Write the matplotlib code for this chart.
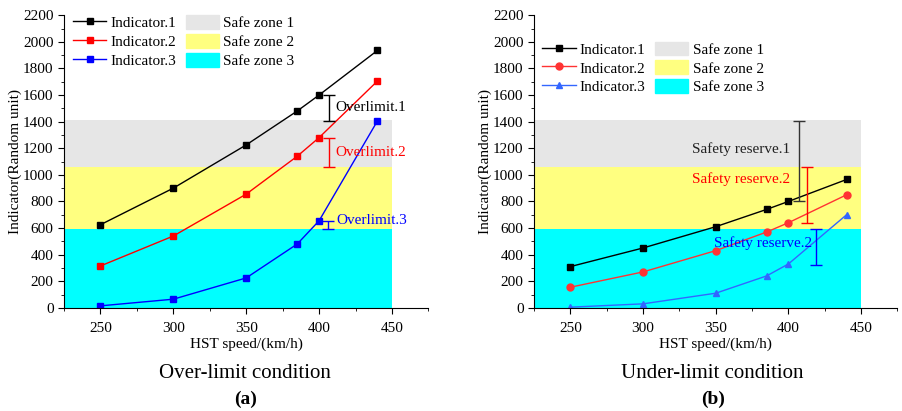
import matplotlib
matplotlib.use('Agg')
import matplotlib.pyplot as plt
from matplotlib.patches import Patch
from matplotlib.lines import Line2D
from matplotlib.ticker import MultipleLocator

plt.rcParams['font.family'] = ['Liberation Serif', 'DejaVu Serif']

speed = [250, 300, 350, 385, 400, 440]

# (a) over-limit condition
over_ind1 = [625, 900, 1225, 1480, 1600, 1935]
over_ind2 = [315, 540, 855, 1140, 1280, 1705]
over_ind3 = [15, 65, 225, 480, 655, 1405]

# (b) under-limit condition
under_ind1 = [310, 450, 610, 740, 800, 965]
under_ind2 = [155, 270, 430, 570, 640, 850]
under_ind3 = [5, 30, 110, 240, 330, 700]

# safe zones (lower, upper)
zone1 = (1060, 1410)
zone2 = (590, 1060)
zone3 = (0, 590)
zone_x = (225, 450)

# bar annotations: x, low, high
over_bars = [(407, 1405, 1600), (407, 1060, 1280), (406, 590, 655)]
over_labels = ['Overlimit.1', 'Overlimit.2', 'Overlimit.3']
over_label_pos = [(411, 1505), (411, 1170), (412, 660)]

under_bars = [(407, 800, 1405), (413, 640, 1060), (419, 325, 595)]
under_labels = ['Safety reserve.1', 'Safety reserve.2', 'Safety reserve.2']
under_label_pos = [(334, 1190), (334, 965), (349, 485)]

colors = ['black', 'red', 'blue']
under_colors = ['black', '#ff3333', '#3366ff']
bar_colors_b = ['#333333', 'red', 'blue']


def draw_zones(ax):
    ax.fill_between(zone_x, zone1[0], zone1[1], color='#e6e6e6', lw=0)
    ax.fill_between(zone_x, zone2[0], zone2[1], color='#ffff80', lw=0)
    ax.fill_between(zone_x, zone3[0], zone3[1], color='#00ffff', lw=0)


def style_axes(ax):
    ax.set_xlim(225, 475)
    ax.set_ylim(0, 2200)
    ax.set_xticks([250, 300, 350, 400, 450])
    ax.set_yticks(range(0, 2201, 200))
    ax.xaxis.set_minor_locator(MultipleLocator(25))
    ax.yaxis.set_minor_locator(MultipleLocator(100))
    ax.spines['top'].set_visible(False)
    ax.spines['right'].set_visible(False)
    ax.tick_params(which='major', direction='out', length=4, labelsize=11)
    ax.tick_params(axis='x', which='major', pad=6)
    ax.tick_params(which='minor', direction='out', length=2.5)
    ax.set_xlabel('HST speed/(km/h)', fontsize=11, labelpad=2)
    ax.set_ylabel('Indicator(Random unit)', fontsize=11, labelpad=1)


def make_legend(ax, markers, line_colors, anchor):
    handles = [Line2D([], [], color=c, marker=m, markersize=5, lw=1) for c, m in zip(line_colors, markers)]
    handles += [Patch(color='#e6e6e6'), Patch(color='#ffff80'), Patch(color='#00ffff')]
    labels = ['Indicator.1', 'Indicator.2', 'Indicator.3', 'Safe zone 1', 'Safe zone 2', 'Safe zone 3']
    ax.legend(handles, labels, ncol=2, frameon=False, fontsize=11, loc='upper left',
              bbox_to_anchor=anchor, borderaxespad=0, borderpad=0,
              handlelength=2.2, handleheight=1.0,
              labelspacing=0.25, columnspacing=0.6, handletextpad=0.28)


fig = plt.figure(figsize=(9.02, 4.11), dpi=100)
ax1 = fig.add_axes([0.071, 0.251, 0.404, 0.712])
ax2 = fig.add_axes([0.592, 0.251, 0.403, 0.712])

# panel (a)
draw_zones(ax1)
for vals, c in zip([over_ind1, over_ind2, over_ind3], colors):
    ax1.plot(speed, vals, color=c, marker='s', markersize=5, lw=1)
for (x, lo, hi), (tx, ty), txt, c in zip(over_bars, over_label_pos, over_labels, colors):
    ax1.errorbar(x, (lo + hi) / 2, yerr=(hi - lo) / 2, color=c, capsize=4, lw=1)
    ax1.text(tx, ty, txt, color=c, fontsize=11, va='center')
style_axes(ax1)
make_legend(ax1, ['s', 's', 's'], colors, (0.024, 1.0))

# panel (b)
draw_zones(ax2)
for vals, c, m in zip([under_ind1, under_ind2, under_ind3], under_colors, ['s', 'o', '^']):
    ax2.plot(speed, vals, color=c, marker=m, markersize=5, lw=1)
for (x, lo, hi), c in zip(under_bars, bar_colors_b):
    ax2.errorbar(x, (lo + hi) / 2, yerr=(hi - lo) / 2, color=c, capsize=4, lw=1)
for (tx, ty), txt, c in zip(under_label_pos, under_labels, ['#222222', 'red', 'blue']):
    ax2.text(tx, ty, txt, color=c, fontsize=11, va='center')
style_axes(ax2)
make_legend(ax2, ['s', 'o', '^'], under_colors, (0.022, 0.91))

fig.text(0.272, 0.080, 'Over-limit condition', ha='center', va='baseline', fontsize=15)
fig.text(0.272, 0.018, '(a)', ha='center', va='baseline', fontsize=14, fontweight='bold')
fig.text(0.79, 0.080, 'Under-limit condition', ha='center', va='baseline', fontsize=15)
fig.text(0.79, 0.018, '(b)', ha='center', va='baseline', fontsize=14, fontweight='bold')

fig.savefig('out.png', dpi=100)
